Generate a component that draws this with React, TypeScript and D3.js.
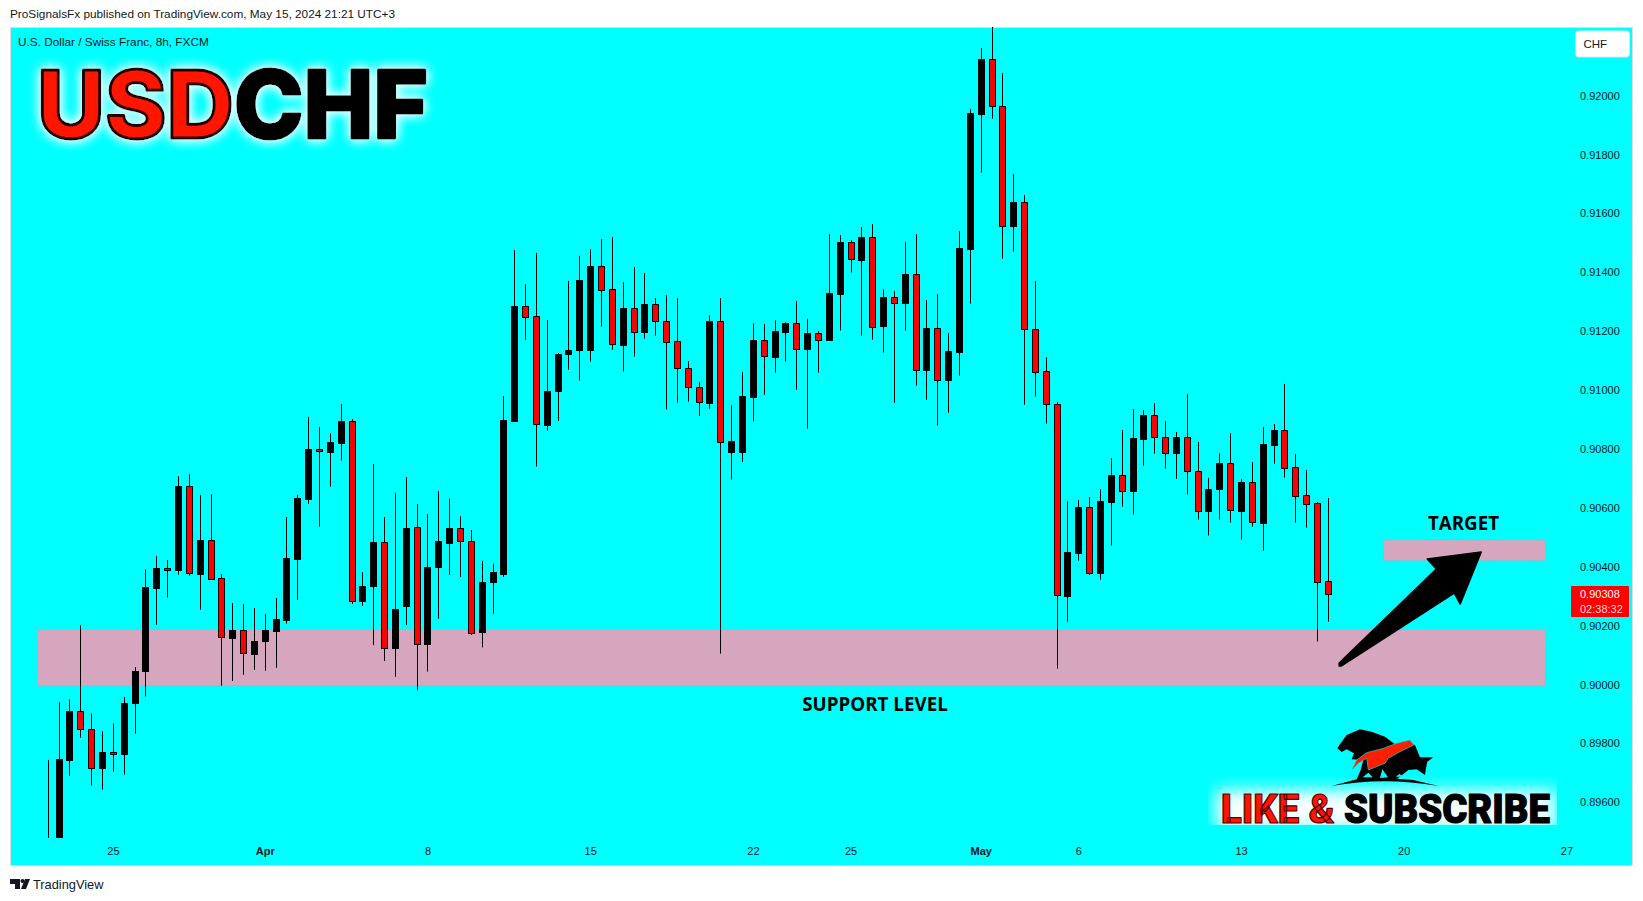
import React, { useEffect, useRef } from 'react';
import * as d3 from 'd3';

// prices are kept in 1/100000 of a franc, the chart's own precision
const opens = [
  89404, 89336, 89745, 89909, 89848, 89714, 89770, 89762, 89935, 90044,
  90329, 90395, 90387, 90673, 90376, 90490, 90361, 90159, 90184, 90105,
  90146, 90183, 90220, 90427, 90631, 90799, 90791, 90821, 90894, 90284,
  90336, 90484, 90126, 90268, 90535, 90138, 90400, 90482, 90532, 90489,
  90178, 90347, 90375, 90895, 91285, 91251, 90882, 90995, 91120, 91134,
  91134, 91421, 91342, 91154, 91278, 91195, 91291, 91234, 91166, 91074,
  91010, 90957, 91234, 90790, 90790, 90978, 91169, 91114, 91198, 91227,
  91137, 91193, 91168, 91328, 91502, 91443, 91519, 91215, 91315, 91294,
  91393, 91066, 91210, 91032, 91130, 91479, 91939, 92124, 91964, 91558,
  91638, 91209, 91064, 90952, 90302, 90448, 90603, 90380, 90621, 90711,
  90658, 90835, 90914, 90840, 90787, 90840, 90724, 90587, 90662, 90751,
  90590, 90687, 90550, 90815, 90864, 90738, 90644, 90616, 90351,
];
const closes = [
  89455, 89747, 89910, 89847, 89716, 89770, 89762, 89936, 90045, 90331,
  90396, 90387, 90674, 90376, 90491, 90359, 90159, 90185, 90105, 90148,
  90185, 90223, 90430, 90634, 90800, 90791, 90824, 90895, 90284, 90336,
  90484, 90124, 90258, 90532, 90138, 90400, 90489, 90532, 90489, 90178,
  90347, 90382, 90899, 91286, 91249, 90884, 90996, 91122, 91135, 91373,
  91421, 91341, 91154, 91278, 91195, 91291, 91232, 91164, 91073, 91008,
  90959, 91234, 90824, 90827, 90980, 91170, 91114, 91201, 91227, 91137,
  91193, 91168, 91329, 91503, 91443, 91520, 91215, 91315, 91294, 91393,
  91066, 91210, 91032, 91132, 91482, 91941, 92125, 91964, 91558, 91639,
  91206, 91064, 90952, 90302, 90450, 90603, 90380, 90623, 90712, 90658,
  90837, 90915, 90838, 90787, 90840, 90723, 90587, 90663, 90751, 90590,
  90688, 90550, 90817, 90865, 90736, 90641, 90614, 90349, 90308,
];
const highs = [
  89744, 89941, 89950, 90202, 89902, 89841, 89868, 89958, 90059, 90392,
  90437, 90423, 90708, 90715, 90644, 90647, 90375, 90277, 90274, 90260,
  90240, 90294, 90569, 90644, 90909, 90875, 90854, 90953, 90902, 90382,
  90749, 90569, 90651, 90705, 90613, 90579, 90657, 90632, 90572, 90525,
  90420, 90411, 90980, 91476, 91360, 91466, 91238, 91126, 91371, 91456,
  91479, 91513, 91520, 91367, 91418, 91398, 91313, 91323, 91313, 91099,
  91028, 91254, 91313, 90949, 91062, 91227, 91225, 91237, 91231, 91303,
  91242, 91201, 91530, 91527, 91510, 91554, 91564, 91343, 91337, 91503,
  91530, 91306, 91326, 91194, 91540, 91955, 92162, 92274, 92077, 91734,
  91663, 91371, 91112, 90960, 90623, 90627, 90637, 90664, 90769, 90865,
  90936, 90932, 90956, 90895, 90858, 90987, 90824, 90702, 90786, 90854,
  90698, 90756, 90875, 90885, 91021, 90783, 90729, 90620, 90634,
];
const lows = [
  89353, 89302, 89690, 89819, 89656, 89643, 89704, 89694, 89833, 89959,
  90203, 90295, 90373, 90370, 90254, 90355, 89996, 90012, 90033, 90050,
  90047, 90057, 90207, 90288, 90614, 90536, 90672, 90760, 90274, 90267,
  90134, 90080, 90026, 90202, 89980, 90044, 90223, 90372, 90365, 90168,
  90126, 90240, 90365, 90893, 91170, 90740, 90862, 90895, 91069, 91032,
  91097, 91215, 91137, 91063, 91114, 91175, 91185, 90934, 90957, 90961,
  90912, 90936, 90105, 90696, 90756, 90893, 90984, 91059, 91097, 91001,
  90869, 91059, 91167, 91202, 91399, 91185, 91171, 91127, 90957, 91202,
  91015, 90967, 90879, 90923, 91049, 91294, 91738, 91922, 91446, 91470,
  90950, 90978, 90886, 90054, 90213, 90421, 90373, 90356, 90472, 90604,
  90577, 90743, 90784, 90733, 90699, 90645, 90560, 90506, 90560, 90550,
  90492, 90536, 90454, 90750, 90703, 90550, 90533, 90146, 90213,
];

const priceTicks = [89600, 89800, 90000, 90200, 90400, 90600, 90800, 91000, 91200, 91400, 91600, 91800, 92000];
const timeTickBars = [6, 20, 35, 50, 65, 74, 86, 95, 110, 125, 140];
const timeTickLabels = ['25', 'Apr', '8', '15', '22', '25', 'May', '6', '13', '20', '27'];
const supportZone = [89995, 90187];
const targetZone = [90420, 90492];
const lastPrice = 90308;

const W = 1643, H = 901;
const TEXT = '"Liberation Sans", Arial, sans-serif';

export default function App() {
  const ref = useRef<SVGSVGElement | null>(null);

  useEffect(() => {
    const svg = d3.select(ref.current);
    svg.selectAll('*').remove();

    const x = d3.scaleLinear().domain([0, 118]).range([48.3, 1328.3]);
    const y = d3.scaleLinear().domain([89600, 92000]).range([802.3, 95.7]);
    const px = (i: number) => Math.floor(x(i));

    const defs = svg.append('defs');
    defs.append('clipPath').attr('id', 'pane').append('rect')
      .attr('x', 10).attr('y', 27).attr('width', 1623).attr('height', 811);
    defs.append('clipPath').attr('id', 'badgeBox').append('rect')
      .attr('x', 1208).attr('y', 776).attr('width', 349).attr('height', 49);
    const glow = defs.append('filter').attr('id', 'glow')
      .attr('x', '-10%').attr('y', '-30%').attr('width', '120%').attr('height', '160%');
    glow.append('feGaussianBlur').attr('stdDeviation', 6).attr('result', 'soft');
    glow.append('feFlood').attr('flood-color', '#eaffff');
    glow.append('feComposite').attr('in2', 'soft').attr('operator', 'in').attr('result', 'halo');
    const glowMerge = glow.append('feMerge');
    glowMerge.append('feMergeNode').attr('in', 'halo');
    glowMerge.append('feMergeNode').attr('in', 'halo');
    glowMerge.append('feMergeNode').attr('in', 'SourceGraphic');
    const patch = defs.append('filter').attr('id', 'patch').attr('x', '-10%').attr('y', '-80%').attr('width', '120%').attr('height', '260%');
    patch.append('feGaussianBlur').attr('stdDeviation', 8);

    // page and pane
    svg.append('rect').attr('width', W).attr('height', H).attr('fill', '#ffffff');
    svg.append('rect').attr('x', 10.5).attr('y', 27.5).attr('width', 1622).attr('height', 838)
      .attr('fill', '#00ffff').attr('stroke', '#d9dde3');

    svg.append('text').attr('x', 10).attr('y', 18).attr('font-family', TEXT).attr('font-size', 11.8)
      .attr('fill', '#131722').text('ProSignalsFx published on TradingView.com, May 15, 2024 21:21 UTC+3');
    svg.append('text').attr('x', 18).attr('y', 46).attr('font-family', TEXT).attr('font-size', 11.8)
      .attr('fill', '#131722').text('U.S. Dollar / Swiss Franc, 8h, FXCM');

    // zones sit under the candles
    const zones = svg.append('g').attr('fill', '#d6a6bf').attr('stroke', '#58d3e6');
    zones.append('rect').attr('x', 37.5).attr('width', 1508)
      .attr('y', y(supportZone[1])).attr('height', y(supportZone[0]) - y(supportZone[1]));
    zones.append('rect').attr('x', 1383.5).attr('width', 162)
      .attr('y', y(targetZone[1])).attr('height', y(targetZone[0]) - y(targetZone[1]));

    // candles
    const bars = d3.range(opens.length);
    const g = svg.append('g').attr('clip-path', 'url(#pane)');
    g.selectAll('line').data(bars).join('line')
      .attr('x1', i => px(i) + 0.5).attr('x2', i => px(i) + 0.5)
      .attr('y1', i => y(highs[i])).attr('y2', i => y(lows[i]))
      .attr('stroke', '#000000');
    g.selectAll('rect').data(bars).join('rect')
      .attr('x', i => px(i) - 2.5).attr('width', 6)
      .attr('y', i => Math.round(y(Math.max(opens[i], closes[i]))) + 0.5)
      .attr('height', i => Math.max(1, Math.round(Math.abs(y(opens[i]) - y(closes[i])))))
      .attr('fill', i => (closes[i] < opens[i] ? '#ff0000' : '#000000'))
      .attr('stroke', '#000000');

    // axes
    const right = svg.append('g').attr('transform', 'translate(1573,0)')
      .call(d3.axisRight(y).tickValues(priceTicks).tickSize(0).tickPadding(7)
        .tickFormat(d => d3.format('.5f')(+d / 1e5)));
    right.select('.domain').remove();
    right.selectAll('text').attr('font-family', TEXT).attr('font-size', 11).attr('fill', '#131722');

    const bottom = svg.append('g').attr('transform', 'translate(-0.5,838)')
      .call(d3.axisBottom(x).tickValues(timeTickBars).tickSize(0).tickPadding(9)
        .tickFormat((_, i) => timeTickLabels[i]));
    bottom.select('.domain').remove();
    bottom.selectAll('text').attr('font-family', TEXT).attr('font-size', 11).attr('fill', '#131722')
      .attr('font-weight', (_, i) => (timeTickLabels[i] === 'Apr' || timeTickLabels[i] === 'May' ? 700 : 400));

    // last price tag
    svg.append('rect').attr('x', 1571).attr('y', 586).attr('width', 58).attr('height', 31).attr('rx', 1).attr('fill', '#ff0000');
    svg.append('text').attr('x', 1580).attr('y', 598).attr('font-family', TEXT).attr('font-size', 11)
      .attr('fill', '#ffffff').text(d3.format('.5f')(lastPrice / 1e5));
    svg.append('text').attr('x', 1580).attr('y', 613).attr('font-family', TEXT).attr('font-size', 11)
      .attr('fill', '#ffd6d6').text('02:38:32');

    // currency button
    svg.append('rect').attr('x', 1575.5).attr('y', 31).attr('width', 54).attr('height', 26).attr('rx', 3)
      .attr('fill', '#ffffff').attr('stroke', '#e0e3eb');
    svg.append('text').attr('x', 1583.5).attr('y', 48).attr('font-family', TEXT).attr('font-size', 11.5)
      .attr('fill', '#131722').text('CHF');

    // annotation labels and arrow
    svg.append('text').attr('x', 875).attr('y', 711).attr('text-anchor', 'middle')
      .attr('font-family', '"Open Sans", sans-serif').attr('font-weight', 700).attr('font-size', 18.8)
      .attr('fill', '#000000').text('SUPPORT LEVEL');
    svg.append('text').attr('x', 1463.5).attr('y', 530).attr('text-anchor', 'middle')
      .attr('font-family', '"Open Sans", sans-serif').attr('font-weight', 700).attr('font-size', 18.8)
      .attr('fill', '#000000').text('TARGET');

    const tipX = x(132.1), tipY = y(90450), tailX = x(119), tailY = y(90066);
    const arrow = d3.path();
    arrow.moveTo(tipX, tipY);
    arrow.lineTo(tipX - 54, tipY + 7);
    arrow.lineTo(tipX - 45, tipY + 17);
    arrow.lineTo(tailX, tailY - 2);
    arrow.lineTo(tailX, tailY + 1);
    arrow.lineTo(tailX + 2, tailY + 1);
    arrow.lineTo(tipX - 27, tipY + 41);
    arrow.lineTo(tipX - 21, tipY + 52);
    arrow.closePath();
    svg.append('path').attr('d', arrow.toString()).attr('fill', '#000000').attr('stroke', '#000000')
      .attr('stroke-width', 1.5).attr('stroke-linejoin', 'round');

    // USDCHF title
    const title = svg.append('text').attr('x', 37).attr('y', 137.5).attr('font-family', 'Inter, sans-serif')
      .attr('font-weight', 800).attr('font-size', 94).attr('textLength', 391)
      .attr('lengthAdjust', 'spacingAndGlyphs').attr('stroke-linejoin', 'round').attr('filter', 'url(#glow)');
    title.append('tspan').attr('fill', '#ff1400').attr('stroke', '#200000').attr('stroke-width', 3).text('USD');
    title.append('tspan').attr('fill', '#000000').attr('stroke', '#000000').attr('stroke-width', 3).text('CHF');

    // like and subscribe badge
    svg.append('g').attr('clip-path', 'url(#badgeBox)').append('rect')
      .attr('x', 1216).attr('y', 790).attr('width', 340).attr('height', 40)
      .attr('fill', '#f6ffff').attr('filter', 'url(#patch)');
    const badge = svg.append('text').attr('x', 1221).attr('y', 822.5).attr('font-family', 'Roboto, sans-serif')
      .attr('font-weight', 900).attr('font-size', 41).attr('textLength', 329).attr('lengthAdjust', 'spacingAndGlyphs')
      .attr('stroke-linejoin', 'round');
    badge.append('tspan').attr('fill', '#ff1400').attr('stroke', '#500000').attr('stroke-width', 1.2).text('LIKE & ');
    badge.append('tspan').attr('fill', '#000000').attr('stroke', '#000000').attr('stroke-width', 1.2).text('SUBSCRIBE');

    // bull and bear logo, traced in its own box
    const logo = svg.append('g').attr('transform', 'translate(1150,680) scale(0.3333)');
    logo.append('path').attr('fill', '#000000').attr('d',
      'M562,205 L572,190 L590,165 L630,148 L665,155 L705,170 L735,193 L760,185 L795,195 L810,232 L850,232 L832,245 L828,265 L825,285 L800,268 L775,270 L760,282 L742,296 L790,300 L866,318 Q700,290 545,318 L620,298 L632,270 L640,240 L605,238 L612,220 L590,208 L575,216 Z');
    logo.append('path').attr('fill', '#00ffff').attr('d',
      'M638,292 L655,278 L668,292 Z M690,294 L697,268 L714,292 Z M738,290 L748,282 L762,290 Z');
    logo.append('path').attr('fill', '#ff1e00').attr('stroke', '#00e0e0').attr('stroke-width', 2).attr('d',
      'M606,270 L620,240 L650,218 L700,205 L740,190 L780,180 L792,195 L750,215 L715,235 L705,250 L655,270 L650,235 L625,250 Z');

    // footer mark
    const foot = svg.append('g').attr('fill', '#131722');
    foot.append('path').attr('d', 'M10,879 H20 V889 H15 V884 H10 Z');
    foot.append('circle').attr('cx', 22.5).attr('cy', 881).attr('r', 2);
    foot.append('path').attr('d', 'M25,879 H30 L26,889 H21 Z');
    svg.append('text').attr('x', 33).attr('y', 889).attr('font-family', TEXT).attr('font-size', 12.8)
      .attr('fill', '#131722').text('TradingView');
  }, []);

  return <svg ref={ref} width={W} height={H} viewBox={`0 0 ${W} ${H}`}
    style={{ position: 'absolute', left: 0, top: 0, display: 'block' }} />;
}
